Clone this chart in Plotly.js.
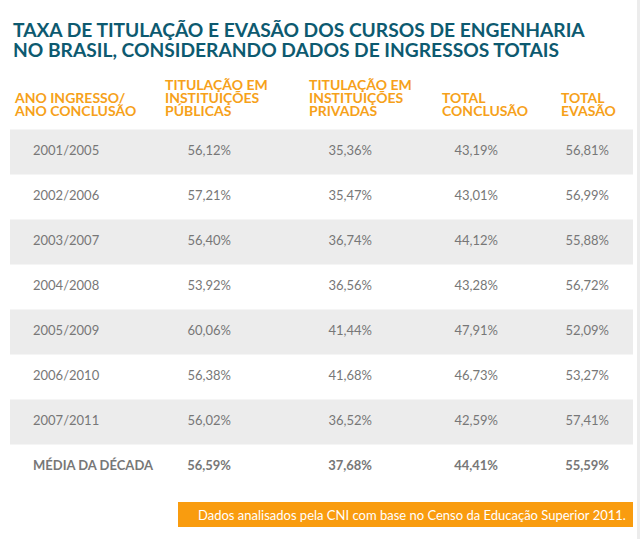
<!DOCTYPE html>
<html>
<head>
<meta charset="utf-8">
<script src="https://cdn.plot.ly/plotly-3.0.1.min.js"></script>
<style>html,body{margin:0;padding:0;background:#fff;}#chart{width:643px;height:539px;}</style>
</head>
<body>
<div id="chart"></div>
<script>
// ---- data ----
const titleLines = [
  "TAXA DE TITULAÇÃO E EVASÃO DOS CURSOS DE ENGENHARIA",
  "NO BRASIL, CONSIDERANDO DADOS DE INGRESSOS TOTAIS"
];
const headers = [
  ["ANO INGRESSO/", "ANO CONCLUSÃO"],
  ["TITULAÇÃO EM", "INSTITUIÇÕES", "PÚBLICAS"],
  ["TITULAÇÃO EM", "INSTITUIÇÕES", "PRIVADAS"],
  ["TOTAL", "CONCLUSÃO"],
  ["TOTAL", "EVASÃO"]
];
const periods = ["2001/2005","2002/2006","2003/2007","2004/2008","2005/2009","2006/2010","2007/2011","MÉDIA DA DÉCADA"];
const publicas = [56.12, 57.21, 56.40, 53.92, 60.06, 56.38, 56.02, 56.59];
const privadas = [35.36, 35.47, 36.74, 36.56, 41.44, 41.68, 36.52, 37.68];
const totalConclusao = [43.19, 43.01, 44.12, 43.28, 47.91, 46.73, 42.59, 44.41];
const totalEvasao = [56.81, 56.99, 55.88, 56.72, 52.09, 53.27, 57.41, 55.59];
const footnote = "Dados analisados pela CNI com base no Censo da Educação Superior 2011.";

// ---- styling / layout ----
const FONT = "Lato, 'Open Sans', sans-serif";
const TEAL = "#0d5a70";
const ORANGE = "#f6a11a";
const GRAY = "#777777";
const BAND = "#ececec";
const colX = [33, 231, 372, 498, 609];     // text anchor positions (px)
const headX = [12, 163, 307, 440, 559];
const rowIdx = periods.map((_, i) => i);
const nData = periods.length - 1;

const fmt = v => v.toFixed(2).replace(".", ",") + "%";
const isAvg = i => i === periods.length - 1;

const traces = [];
const valueCols = [publicas, privadas, totalConclusao, totalEvasao];
traces.push({
  type: "scatter", mode: "text", x: rowIdx.map(() => colX[0]), y: rowIdx,
  text: periods.map((p, i) => isAvg(i) ? "<b>" + p + "</b>" : p),
  textposition: "middle right", hoverinfo: "skip",
  textfont: {family: FONT, size: 13, color: GRAY}, showlegend: false
});
valueCols.forEach((col, c) => {
  traces.push({
    type: "scatter", mode: "text", x: rowIdx.map(() => colX[c + 1]), y: rowIdx,
    text: col.map((v, i) => isAvg(i) ? "<b>" + fmt(v) + "</b>" : fmt(v)),
    textposition: "middle left", hoverinfo: "skip",
    textfont: {family: FONT, size: 13, color: GRAY}, showlegend: false
  });
});

// y mapping: row i center at firstCenter + rowH*i px
const rowH = 45, firstCenter = 152, H = 539, W = 643;
const r0 = -firstCenter / rowH, r1 = r0 + H / rowH;

const shapes = [];
rowIdx.forEach(i => {
  if (i < nData && i % 2 === 0) {
    shapes.push({type: "rect", xref: "x", yref: "y", x0: 10, x1: 633, y0: i - 0.5, y1: i + 0.5,
      fillcolor: BAND, line: {width: 0}, layer: "below"});
  }
});
// footer box
shapes.push({type: "rect", xref: "x", yref: "paper", x0: 178, x1: 633, y0: 1 - 502 / H, y1: 1 - 527 / H,
  fillcolor: "#f99c0f", line: {width: 0}, layer: "below"});
// right edge strip
shapes.push({type: "rect", xref: "x", yref: "paper", x0: 637, x1: 640, y0: 0, y1: 1,
  fillcolor: "#ececec", line: {width: 0}, layer: "below"});

const annotations = [];
const titleY = [29, 49];
titleLines.forEach((t, k) => {
  annotations.push({xref: "x", yref: "paper", x: 11, y: 1 - titleY[k] / H, xanchor: "left", yanchor: "middle",
    text: "<b>" + t + "</b>", showarrow: false, align: "left",
    font: {family: FONT, size: 19.2, color: TEAL}});
});
const headLineY = [84, 97, 110];
headers.forEach((lines, c) => {
  const off = 3 - lines.length;
  lines.forEach((ln, k) => {
    annotations.push({xref: "x", yref: "paper", x: headX[c], y: 1 - headLineY[k + off] / H,
      xanchor: "left", yanchor: "middle", text: "<b>" + ln + "</b>", showarrow: false,
      font: {family: FONT, size: 14, color: ORANGE}});
  });
});
annotations.push({xref: "x", yref: "paper", x: 628, y: 1 - 514.5 / H, xanchor: "right", yanchor: "middle",
  text: footnote, showarrow: false, font: {family: FONT, size: 13, color: "#ffffff"}});

const layout = {
  width: W, height: H, margin: {l: 0, r: 0, t: 0, b: 0},
  paper_bgcolor: "#ffffff", plot_bgcolor: "rgba(0,0,0,0)",
  xaxis: {range: [0, W], visible: false, fixedrange: true},
  yaxis: {range: [r1, r0], visible: false, fixedrange: true},
  shapes, annotations, showlegend: false
};
Plotly.newPlot("chart", traces, layout, {displayModeBar: false, staticPlot: true});
</script>
</body>
</html>
